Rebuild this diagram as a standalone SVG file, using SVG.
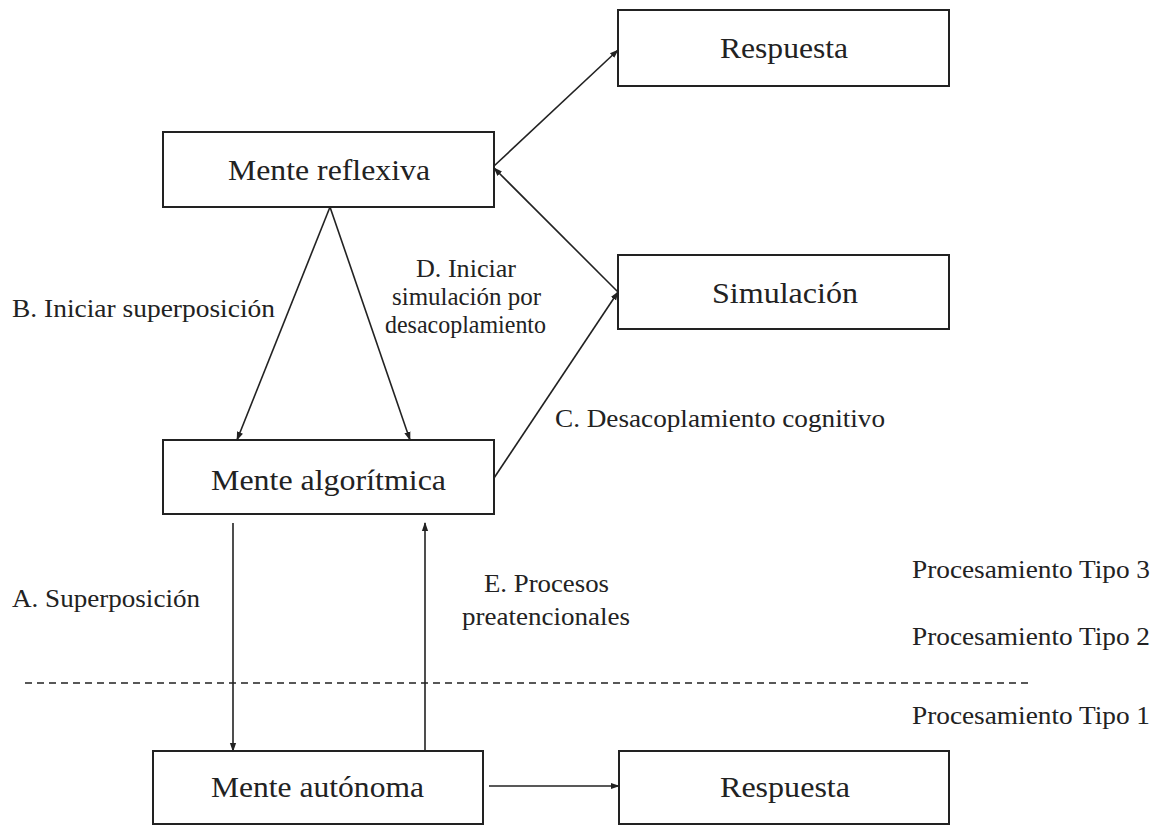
<svg xmlns="http://www.w3.org/2000/svg" width="1157" height="826" viewBox="0 0 1157 826">
<style>
.box{fill:#fff;stroke:#222;stroke-width:2}
.bt{font-family:"Liberation Serif",serif;font-size:30px;fill:#222}
.lt{font-family:"Liberation Serif",serif;font-size:26px;fill:#222}
.c{stroke:#222;stroke-width:1.6;fill:none;marker-end:url(#ah)}
</style>
<defs>
<marker id="ah" viewBox="0 0 10 10" refX="9" refY="5" markerWidth="9" markerHeight="9" markerUnits="userSpaceOnUse" orient="auto">
<path d="M0,1.5 L10,5 L0,8.5 z" fill="#222"/>
</marker>
</defs>
<rect width="1157" height="826" fill="#fff"/>
<g id="n-respuesta-top"><rect class="box" x="618" y="10" width="331" height="76"/><text class="bt" x="720" y="58" textLength="128" lengthAdjust="spacingAndGlyphs">Respuesta</text></g>
<g id="n-reflexiva"><rect class="box" x="163" y="132" width="331" height="75"/><text class="bt" x="228" y="180" textLength="202" lengthAdjust="spacingAndGlyphs">Mente reflexiva</text></g>
<g id="n-simulacion"><rect class="box" x="618" y="255" width="331" height="74"/><text class="bt" x="712" y="303" textLength="146" lengthAdjust="spacingAndGlyphs">Simulación</text></g>
<g id="n-algoritmica"><rect class="box" x="163" y="440" width="331" height="74"/><text class="bt" x="211" y="490" textLength="235" lengthAdjust="spacingAndGlyphs">Mente algorítmica</text></g>
<g id="n-autonoma"><rect class="box" x="153" y="751" width="330" height="73"/><text class="bt" x="211" y="797" textLength="213" lengthAdjust="spacingAndGlyphs">Mente autónoma</text></g>
<g id="n-respuesta-bottom"><rect class="box" x="619" y="751" width="330" height="73"/><text class="bt" x="720" y="797" textLength="130" lengthAdjust="spacingAndGlyphs">Respuesta</text></g>
<g id="connectors">
<line class="c" x1="330" y1="207" x2="237" y2="440"/>
<line class="c" x1="330" y1="207" x2="410" y2="440"/>
<line class="c" x1="494" y1="478" x2="618" y2="292"/>
<line class="c" x1="618" y1="292" x2="494" y2="168"/>
<line class="c" x1="494" y1="166" x2="618" y2="50"/>
<line class="c" x1="233" y1="523" x2="233" y2="751"/>
<line class="c" x1="425" y1="751" x2="425" y2="523"/>
<line class="c" x1="489" y1="786" x2="619" y2="786"/>
<line x1="25" y1="683" x2="1030" y2="683" stroke="#222" stroke-width="1.4" stroke-dasharray="7,5"/>
</g>
<g id="labels">
<text class="lt" x="12" y="317" textLength="263" lengthAdjust="spacingAndGlyphs">B. Iniciar superposición</text>
<text class="lt" x="416" y="277" textLength="100" lengthAdjust="spacingAndGlyphs">D. Iniciar</text>
<text class="lt" x="392" y="305" textLength="149" lengthAdjust="spacingAndGlyphs">simulación por</text>
<text class="lt" x="385" y="333" textLength="161" lengthAdjust="spacingAndGlyphs">desacoplamiento</text>
<text class="lt" x="555" y="427" textLength="330" lengthAdjust="spacingAndGlyphs">C. Desacoplamiento cognitivo</text>
<text class="lt" x="12" y="607" textLength="188" lengthAdjust="spacingAndGlyphs">A. Superposición</text>
<text class="lt" x="484" y="592" textLength="125" lengthAdjust="spacingAndGlyphs">E. Procesos</text>
<text class="lt" x="462" y="625" textLength="168" lengthAdjust="spacingAndGlyphs">preatencionales</text>
<text class="lt" x="912" y="578" textLength="238" lengthAdjust="spacingAndGlyphs">Procesamiento Tipo 3</text>
<text class="lt" x="912" y="645" textLength="238" lengthAdjust="spacingAndGlyphs">Procesamiento Tipo 2</text>
<text class="lt" x="912" y="724" textLength="238" lengthAdjust="spacingAndGlyphs">Procesamiento Tipo 1</text>
</g>
</svg>
